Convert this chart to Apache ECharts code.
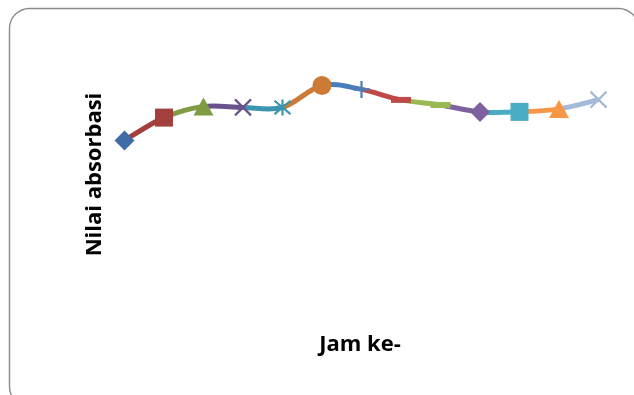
<!DOCTYPE html>
<html>
<head>
<meta charset="utf-8">
<script src="https://cdn.jsdelivr.net/npm/echarts@6/dist/echarts.min.js"></script>
<style>
  html, body { margin: 0; padding: 0; background: #ffffff; }
  #chart { width: 634px; height: 395px; }
</style>
</head>
<body>
<div id="chart"></div>
<script>
// Hourly absorbance readings
const hours = ['1', '2', '3', '4', '5', '6', '7', '8', '9', '10', '11', '12', '13'];
const absorbance = [0.632, 0.708, 0.745, 0.742, 0.742, 0.815, 0.802, 0.767, 0.750, 0.727, 0.727, 0.737, 0.768];
const pointColors = ['#3F6CA6', '#A3403D', '#7F9C44', '#6A528C', '#3C95AE', '#CC7A36',
                     '#4A7EBB', '#BE4B48', '#98B954', '#7D60A0', '#4BACC6', '#F79646', '#A5B9D8'];
const markerShapes = ['diamond', 'square', 'triangle', 'x', 'star', 'circle',
                      'plus', 'dash', 'longDash', 'diamond', 'square', 'triangle', 'x'];
const xTitle = 'Jam ke-';
const yTitle = 'Nilai absorbasi';

// marker shape -> echarts symbol settings
const markerStyles = {
  diamond:  { symbol: 'diamond', size: 20, stroke: false },
  square:   { symbol: 'rect', size: 18, stroke: false },
  triangle: { symbol: 'triangle', size: [20, 18], stroke: false },
  circle:   { symbol: 'circle', size: 19, stroke: false },
  x:        { symbol: 'path://M0 0L10 10M10 0L0 10', size: 16, stroke: true },
  star:     { symbol: 'path://M0 0L10 10M10 0L0 10M5 -1L5 11', size: 16, stroke: true },
  plus:     { symbol: 'path://M5 0L5 10M2 5L8 5', size: 17, stroke: true },
  dash:     { symbol: 'rect', size: [20, 6], stroke: false },
  longDash: { symbol: 'rect', size: [20, 6], stroke: false }
};

const markerData = absorbance.map(function (v, i) {
  const m = markerStyles[markerShapes[i]];
  const c = pointColors[i];
  return {
    value: [i, v],
    symbol: m.symbol,
    symbolSize: m.size,
    itemStyle: m.stroke
      ? { color: c, borderColor: c, borderWidth: 2.2, opacity: 1 }
      : { color: c, borderWidth: 0, opacity: 1 }
  };
});

// one item per segment, from point i to point i+1
const segmentData = absorbance.slice(0, -1).map(function (v, i) { return [i, v]; });

// smoothed segment: cubic bezier with Catmull-Rom style control points,
// coloured like the point it leads into
function renderSegment(params, api) {
  const i = api.value(0);
  const n = absorbance.length;
  const pt = function (j) {
    const k = Math.max(0, Math.min(n - 1, j));
    return api.coord([k, absorbance[k]]);
  };
  const p0 = pt(i - 1), p1 = pt(i), p2 = pt(i + 1), p3 = pt(i + 2);
  const t = 1 / 6;
  return {
    type: 'bezierCurve',
    shape: {
      x1: p1[0], y1: p1[1],
      x2: p2[0], y2: p2[1],
      cpx1: p1[0] + (p2[0] - p0[0]) * t,
      cpy1: p1[1] + (p2[1] - p0[1]) * t,
      cpx2: p2[0] - (p3[0] - p1[0]) * t,
      cpy2: p2[1] - (p3[1] - p1[1]) * t
    },
    style: {
      fill: 'none',
      stroke: pointColors[i + 1],
      lineWidth: 5,
      lineCap: 'butt'
    }
  };
}

const chart = echarts.init(document.getElementById('chart'), null, { renderer: 'canvas' });
chart.setOption({
  animation: false,
  backgroundColor: '#ffffff',
  grid: { left: 104.75, right: 15.75, top: 30, bottom: 65 },
  xAxis: {
    type: 'category',
    data: hours,
    boundaryGap: true,
    show: false
  },
  yAxis: {
    type: 'value',
    min: 0,
    max: 1,
    show: false
  },
  series: [
    {
      type: 'custom',
      data: segmentData,
      renderItem: renderSegment,
      encode: { x: 0, y: 1 },
      silent: true,
      z: 2
    },
    {
      type: 'scatter',
      data: markerData,
      itemStyle: { opacity: 1 },
      z: 3
    }
  ],
  graphic: [
    {
      type: 'rect',
      shape: { x: 9.5, y: 8.5, width: 629, height: 398, r: 20 },
      style: { fill: 'none', stroke: '#8a8a8a', lineWidth: 1.4 },
      silent: true,
      z: 0
    },
    {
      type: 'text',
      x: 95,
      y: 174.5,
      rotation: Math.PI / 2,
      style: {
        text: yTitle,
        fill: '#000000',
        font: 'bold 22px "Open Sans", sans-serif',
        align: 'center',
        verticalAlign: 'middle'
      }
    },
    {
      type: 'text',
      x: 360,
      y: 345,
      style: {
        text: xTitle,
        fill: '#000000',
        font: 'bold 22px "Open Sans", sans-serif',
        align: 'center',
        verticalAlign: 'middle'
      }
    }
  ]
});
</script>
</body>
</html>
